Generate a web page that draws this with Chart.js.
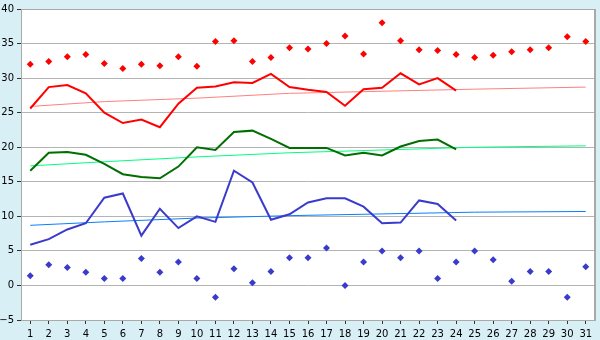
<!DOCTYPE html>
<html>
<head>
<meta charset="utf-8">
<script src="https://cdn.jsdelivr.net/npm/chart.js@4/dist/chart.umd.min.js"></script>
<style>
  html, body { margin: 0; padding: 0; background: #d9eff6; }
  #wrap { width: 600px; height: 340px; position: relative; }
</style>
</head>
<body>
<div id="wrap"><canvas id="chart"></canvas></div>
<script>
'use strict';

// ─── Data ─────────────────────────────────────────────
const days = Array.from({ length: 31 }, (_, i) => String(i + 1));

const maxPoints = [32.0, 32.4, 33.1, 33.4, 32.1, 31.4, 32.0, 31.8, 33.1, 31.7,
    35.3, 35.4, 32.4, 33.0, 34.4, 34.2, 35.0, 36.1, 33.5, 38.0,
    35.4, 34.1, 34.0, 33.4, 33.0, 33.3, 33.8, 34.1, 34.4, 36.0, 35.3];

const minPoints = [1.4, 3.0, 2.6, 1.9, 1.0, 1.0, 3.9, 1.9, 3.4, 1.0,
    -1.7, 2.4, 0.4, 2.0, 4.0, 4.0, 5.4, 0.0, 3.4, 5.0,
    4.0, 5.0, 1.0, 3.4, 5.0, 3.7, 0.6, 2.0, 2.0, -1.7, 2.7];

const highLine = [25.6, 28.7, 29.0, 27.8, 25.0, 23.5, 24.0, 22.9, 26.3, 28.6,
    28.8, 29.4, 29.3, 30.6, 28.7, 28.3, 28.0, 26.0, 28.4, 28.6,
    30.7, 29.1, 30.0, 28.2];

const meanLine = [16.6, 19.2, 19.3, 18.9, 17.6, 16.1, 15.7, 15.5, 17.2, 20.0,
    19.6, 22.2, 22.4, 21.2, 19.9, 19.9, 19.9, 18.8, 19.2, 18.8,
    20.1, 20.9, 21.1, 19.7];

const lowLine = [5.9, 6.7, 8.1, 9.0, 12.7, 13.3, 7.2, 11.1, 8.3, 10.0,
    9.2, 16.6, 14.9, 9.5, 10.3, 12.0, 12.6, 12.6, 11.4, 9.0,
    9.1, 12.3, 11.8, 9.4];

// trend lines, read at a few days; gaps are spanned
const trendDays = [1, 5, 10, 15, 20, 25, 31];
const highTrend = [25.9, 26.6, 27.1, 27.8, 28.1, 28.4, 28.7];
const meanTrend = [17.3, 17.9, 18.6, 19.2, 19.6, 20.0, 20.2];
const lowTrend = [8.7, 9.2, 9.75, 10.1, 10.35, 10.6, 10.7];

const yTicks = [-5, 0, 5, 10, 15, 20, 25, 30, 35, 40];

function sparse(dayList, values) {
    const out = new Array(days.length).fill(null);
    dayList.forEach((d, i) => { out[d - 1] = values[i]; });
    return out;
}

// ─── Plugin: white plot area + grey frame ─────────────
const plotFrame = {
    id: 'plotFrame',
    beforeDraw(chart) {
        const { ctx, chartArea: a } = chart;
        ctx.save();
        ctx.fillStyle = '#ffffff';
        ctx.fillRect(a.left, a.top, a.right - a.left, a.bottom - a.top);
        ctx.restore();
    },
    afterDatasetsDraw(chart) {
        const { ctx, chartArea: a } = chart;
        ctx.save();
        ctx.strokeStyle = '#a9a9a9';
        ctx.lineWidth = 1;
        ctx.strokeRect(a.left + 0.5, a.top + 0.5, a.right - a.left - 1, a.bottom - a.top);
        ctx.fillStyle = '#a9a9a9';
        ctx.fillRect(a.right - 1, a.top, 2, a.bottom - a.top);
        ctx.restore();
    }
};

const lineDs = (data, color, width, order) => ({
    data, borderColor: color, backgroundColor: color, borderWidth: width,
    pointRadius: 0, fill: false, tension: 0, order
});

const dotDs = (data, color) => ({
    data, showLine: false, pointStyle: 'rectRot', pointRadius: 3.5,
    pointBorderWidth: 0, pointBackgroundColor: color, borderColor: color,
    backgroundColor: color, order: 0
});

const trendDs = (data, color) => ({
    ...lineDs(data, color, 1, 5), spanGaps: true
});

const font = { family: 'DejaVu Sans', size: 10 };

new Chart(document.getElementById('chart'), {
    type: 'line',
    data: {
        labels: days,
        datasets: [
            dotDs(maxPoints, '#ff0000'),
            dotDs(minPoints, '#3a3acc'),
            lineDs(highLine, '#ff0000', 2, 1),
            lineDs(meanLine, '#006f00', 2, 1),
            lineDs(lowLine, '#3a3acc', 2, 1),
            trendDs(sparse(trendDays, highTrend), '#ff8080'),
            trendDs(sparse(trendDays, meanTrend), '#00ff80'),
            trendDs(sparse(trendDays, lowTrend), '#0a80ff')
        ]
    },
    options: {
        responsive: true,
        maintainAspectRatio: false,
        animation: false,
        devicePixelRatio: 1,
        layout: { padding: { top: 5, right: 5, left: 0, bottom: 0 } },
        plugins: { legend: { display: false }, tooltip: { enabled: false } },
        scales: {
            x: {
                offset: true,
                grid: {
                    drawOnChartArea: false, drawTicks: true, tickLength: 4,
                    color: '#333333', offset: false
                },
                border: { display: true, color: '#a9a9a9' },
                ticks: { font, color: '#000', padding: 4, maxRotation: 0, autoSkip: false },
                afterFit: s => { s.height = 20; }
            },
            y: {
                min: -5, max: 40,
                afterBuildTicks: s => { s.ticks = yTicks.map(v => ({ value: v })); },
                grid: { color: '#b4b4b4', tickColor: '#333333', tickLength: 4, drawTicks: true },
                border: { display: true, color: '#a9a9a9' },
                ticks: {
                    font, color: '#000', padding: 3,
                    callback: v => String(v).replace('-', '\u2212')
                },
                afterFit: s => { s.width = 21; }
            }
        }
    },
    plugins: [plotFrame]
});
</script>
</body>
</html>
